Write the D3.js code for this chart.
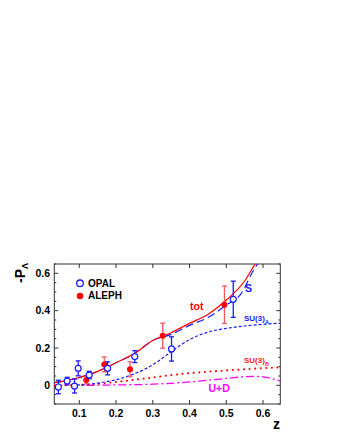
<!DOCTYPE html>
<html><head><meta charset="utf-8">
<script src="https://cdn.jsdelivr.net/npm/d3@7"></script>
<style>body{margin:0;background:#fff}svg{display:block}text{font-family:"Liberation Sans",Arial,sans-serif;font-weight:bold}</style>
</head><body><div id="c"></div>
<script>
// data
const opalZ   = [0.043,0.067,0.087,0.097,0.127,0.177,0.251,0.351,0.519];
const opalY   = [-0.009,0.023,-0.004,0.091,0.055,0.091,0.154,0.195,0.461];
const opalErr = [0.036,0.02,0.037,0.04,0.02,0.035,0.032,0.065,0.097];
const alephZ   = [0.119,0.168,0.238,0.327,0.495];
const alephY   = [0.028,0.112,0.086,0.266,0.432];
const alephErr = [0.02,0.04,0.04,0.067,0.1];
const totZ = [0.032,0.05,0.075,0.1,0.125,0.15,0.175,0.2,0.25,0.3,0.35,0.4,0.45,0.5,0.55,0.578];
const totY = [0.014,0.02,0.03,0.042,0.057,0.075,0.097,0.121,0.17,0.24,0.282,0.332,0.38,0.457,0.559,0.65];
const sZ = [0.032,0.05,0.075,0.1,0.125,0.15,0.175,0.2,0.25,0.3,0.35,0.4,0.45,0.5,0.54,0.575,0.585];
const sY = [0.014,0.02,0.03,0.042,0.057,0.075,0.097,0.121,0.17,0.24,0.273,0.321,0.363,0.43,0.49,0.62,0.65];
const suAZ = [0.08,0.1,0.15,0.2,0.25,0.3,0.35,0.4,0.45,0.5,0.55,0.6,0.65];
const suAY = [0,0.002,0.012,0.03,0.062,0.11,0.18,0.245,0.285,0.305,0.318,0.327,0.333];
const suBZ = [0.032,0.1,0.15,0.2,0.25,0.3,0.35,0.4,0.45,0.5,0.55,0.6,0.65];
const suBY = [0,0.002,0.008,0.018,0.03,0.042,0.055,0.065,0.073,0.08,0.086,0.092,0.096];
const udZ = [0.032,0.1,0.2,0.3,0.35,0.4,0.45,0.5,0.55,0.575,0.6,0.625,0.65];
const udY = [0,0,0.002,0.006,0.011,0.018,0.027,0.037,0.046,0.048,0.045,0.036,0.02];
const xTicks = [0.1,0.2,0.3,0.4,0.5,0.6];
const yTicks = [0,0.2,0.4,0.6];
const yMinor = d3.range(-0.1,0.651,0.05).map(v=>+v.toFixed(2));

const W=337,H=436;
const L=54.3,R=280.3,T=264,B=404;
const svg=d3.select("#c").append("svg").attr("width",W).attr("height",H);
const x=d3.scaleLinear().domain([0.032,0.647]).range([L,R]);
const y=d3.scaleLinear().domain([-0.1,0.65]).range([B,T]);

const defs=svg.append("defs");
defs.append("clipPath").attr("id","clip").append("rect").attr("x",L).attr("y",T).attr("width",R-L).attr("height",B-T);

// frame
svg.append("rect").attr("x",L).attr("y",T).attr("width",R-L).attr("height",B-T)
  .attr("fill","none").attr("stroke","#333").attr("stroke-width",1);

// ticks
const tk=svg.append("g").attr("stroke","#333").attr("stroke-width",1);
xTicks.forEach(v=>{
  tk.append("line").attr("x1",x(v)).attr("x2",x(v)).attr("y1",B).attr("y2",B-4);
  tk.append("line").attr("x1",x(v)).attr("x2",x(v)).attr("y1",T).attr("y2",T+4);
});
yMinor.forEach(v=>{
  const major = yTicks.some(t=>Math.abs(t-v)<1e-6);
  const len = major?4:2;
  tk.append("line").attr("x1",L).attr("x2",L+len).attr("y1",y(v)).attr("y2",y(v));
  tk.append("line").attr("x1",R).attr("x2",R-len).attr("y1",y(v)).attr("y2",y(v));
});

// tick labels
svg.append("g").selectAll("text").data(xTicks).join("text")
  .attr("x",d=>x(d)).attr("y",416.5).attr("text-anchor","middle").attr("font-size",10.5).text(d=>d.toFixed(1));
svg.append("g").selectAll("text").data(yTicks).join("text")
  .attr("x",50).attr("y",d=>y(d)+3.7).attr("text-anchor","end").attr("font-size",10.5).text(d=>d===0?"0":d.toFixed(1));

// axis titles
svg.append("text").attr("x",280).attr("y",428.5).attr("text-anchor","end").attr("font-size",14).text("z");
const yt=svg.append("text").attr("transform","translate(25,263) rotate(-90)").attr("text-anchor","end").attr("font-size",14);
yt.append("tspan").text("-P");
yt.append("tspan").attr("font-size",9).attr("dy",3).text("\u039b");

// curves
const g=svg.append("g").attr("clip-path","url(#clip)").attr("fill","none");
const line=d3.line().x(d=>x(d[0])).y(d=>y(d[1])).curve(d3.curveMonotoneX);
const zip=(a,b)=>a.map((v,i)=>[v,b[i]]);
g.append("path").attr("d",line(zip(udZ,udY))).attr("stroke","#ff00ff").attr("stroke-width",1.3).attr("stroke-dasharray","8,3,2,3");
g.append("path").attr("d",line(zip(suBZ,suBY))).attr("stroke","#ff0000").attr("stroke-width",2).attr("stroke-linecap","round").attr("stroke-dasharray","0.1,5.5");
g.append("path").attr("d",line(zip(suAZ,suAY))).attr("stroke","#1a1aff").attr("stroke-width",1.2).attr("stroke-dasharray","3,2");
g.append("path").attr("d",line(zip(sZ,sY))).attr("stroke","#1a1aff").attr("stroke-width",1.2).attr("stroke-dasharray","8,4");
g.append("path").attr("d",line(zip(totZ,totY))).attr("stroke","#ff0000").attr("stroke-width",1.2);

// data points: ALEPH
const al=svg.append("g");
alephZ.forEach((z,i)=>{
  const cx=x(z), y1=y(alephY[i]+alephErr[i]), y0=y(alephY[i]-alephErr[i]);
  al.append("line").attr("x1",cx).attr("x2",cx).attr("y1",y1).attr("y2",y0).attr("stroke","#f05a5a").attr("stroke-width",1.3);
  al.append("line").attr("x1",cx-2.5).attr("x2",cx+2.5).attr("y1",y1).attr("y2",y1).attr("stroke","#f05a5a").attr("stroke-width",1.3);
  al.append("line").attr("x1",cx-2.5).attr("x2",cx+2.5).attr("y1",y0).attr("y2",y0).attr("stroke","#f05a5a").attr("stroke-width",1.3);
  al.append("circle").attr("cx",cx).attr("cy",y(alephY[i])).attr("r",3).attr("fill","#ff0000");
});
// OPAL
const op=svg.append("g");
opalZ.forEach((z,i)=>{
  const cx=x(z), cy=y(opalY[i]), y1=y(opalY[i]+opalErr[i]), y0=y(opalY[i]-opalErr[i]);
  op.append("line").attr("x1",cx).attr("x2",cx).attr("y1",y1).attr("y2",cy-3).attr("stroke","#1a1aff").attr("stroke-width",1.3);
  op.append("line").attr("x1",cx).attr("x2",cx).attr("y1",cy+3).attr("y2",y0).attr("stroke","#1a1aff").attr("stroke-width",1.3);
  op.append("line").attr("x1",cx-2.5).attr("x2",cx+2.5).attr("y1",y1).attr("y2",y1).attr("stroke","#1a1aff").attr("stroke-width",1.3);
  op.append("line").attr("x1",cx-2.5).attr("x2",cx+2.5).attr("y1",y0).attr("y2",y0).attr("stroke","#1a1aff").attr("stroke-width",1.3);
  op.append("circle").attr("cx",cx).attr("cy",cy).attr("r",3).attr("fill","#fff").attr("stroke","#1a1aff").attr("stroke-width",1.2);
});

// legend
svg.append("circle").attr("cx",80).attr("cy",283.3).attr("r",3.3).attr("fill","#fff").attr("stroke","#1a1aff").attr("stroke-width",1.3);
svg.append("text").attr("x",88).attr("y",286.8).attr("font-size",10).text("OPAL");
svg.append("circle").attr("cx",80).attr("cy",296).attr("r",3.3).attr("fill","#ff0000");
svg.append("text").attr("x",88).attr("y",299.3).attr("font-size",10).text("ALEPH");

// curve labels
svg.append("text").attr("x",190).attr("y",310).attr("font-size",10.5).attr("fill","#ff0000").text("tot");
svg.append("text").attr("x",245).attr("y",292.3).attr("font-size",10.5).attr("fill","#1a1aff").text("S");
const la=svg.append("text").attr("x",244).attr("y",321).attr("font-size",8).attr("fill","#1a1aff");
la.append("tspan").text("SU(3)"); la.append("tspan").attr("font-size",5.5).attr("dy",2.5).text("A");
const lb=svg.append("text").attr("x",244).attr("y",363).attr("font-size",8).attr("fill","#ff2020");
lb.append("tspan").text("SU(3)"); lb.append("tspan").attr("font-size",5.5).attr("dy",2.5).text("B");
svg.append("text").attr("x",208.5).attr("y",391.7).attr("font-size",10.5).attr("fill","#ff00ff").text("U+D");
</script></body></html>
